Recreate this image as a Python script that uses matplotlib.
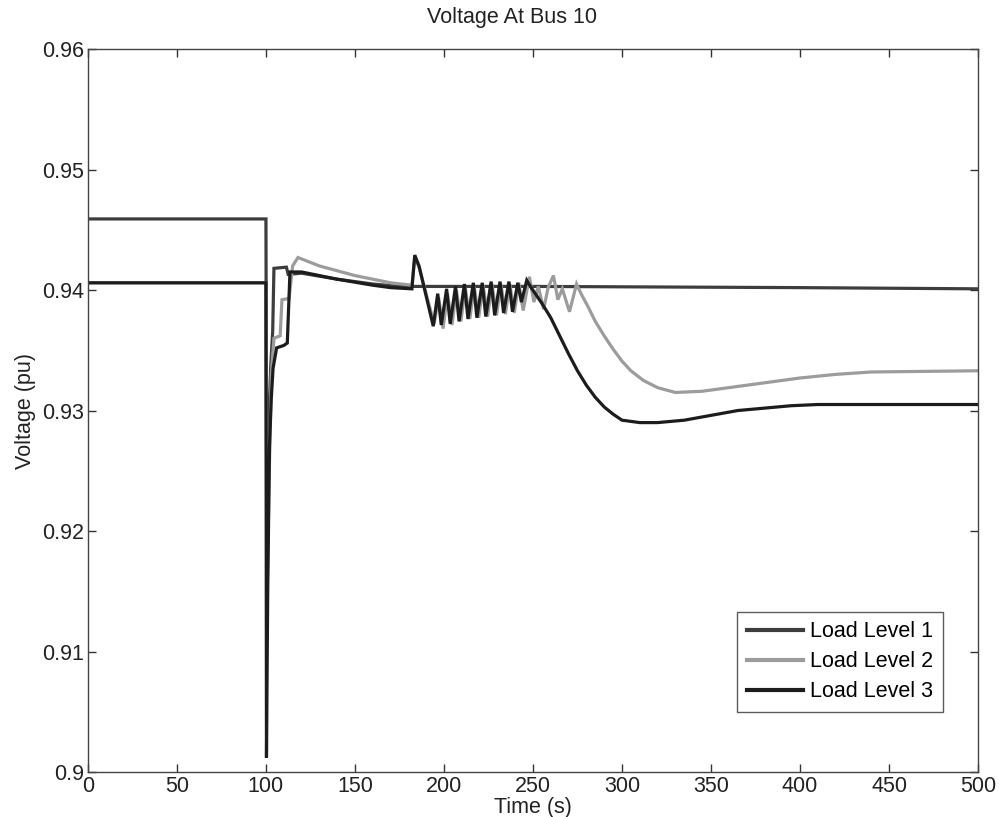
import matplotlib
matplotlib.use("Agg")
import matplotlib.pyplot as plt

plt.rcParams['font.family'] = ['Liberation Sans', 'DejaVu Sans']

# Load Level 1: bus voltage (pu) vs time (s)
t_l1 = [0, 100, 100.4, 101.5, 102.8, 103.8, 104.5, 111.5, 112.5, 120, 140, 160, 175, 250, 400, 500]
v_l1 = [0.9459, 0.9459, 0.9245, 0.9290, 0.9340, 0.9366, 0.9418, 0.9419, 0.9413, 0.9414,
        0.9409, 0.9405, 0.9403, 0.9403, 0.9402, 0.9401]

# Load Level 2
t_l2 = [0, 100, 100.5, 101.5, 103, 104.5, 108, 109, 113, 115, 118, 130, 150, 170, 182,
        183.6, 186, 194.5, 197, 199.5, 202, 204.5, 207, 209.5, 212, 214.5, 217, 219.5,
        222, 224.5, 227, 229.5, 232, 234.5, 237, 239.5, 242, 244.5, 248, 250.5, 253,
        256, 258.5, 261.5, 264, 266.5, 270.5, 274.5, 277, 281, 285, 290, 295, 300, 305,
        312, 320, 330, 345, 360, 380, 400, 420, 440, 500]
v_l2 = [0.9406, 0.9406, 0.9130, 0.9220, 0.9330, 0.9360, 0.9362, 0.9392, 0.9393, 0.9420,
        0.9427, 0.9420, 0.9412, 0.9406, 0.9404,
        0.9427, 0.9419, 0.9372, 0.9394, 0.9368, 0.9397, 0.9371, 0.9400, 0.9374, 0.9402,
        0.9376, 0.9403, 0.9377, 0.9404, 0.9378, 0.9405, 0.9379, 0.9405, 0.9380, 0.9405,
        0.9381, 0.9406, 0.9383, 0.9411, 0.9390, 0.9403, 0.9384, 0.9402, 0.9412, 0.9392,
        0.9401, 0.9382, 0.9405, 0.9397, 0.9386, 0.9374, 0.9362, 0.9351, 0.9341, 0.9333,
        0.9325, 0.9319, 0.9315, 0.9316, 0.9319, 0.9323, 0.9327, 0.9330, 0.9332, 0.9333]

# Load Level 3
t_l3 = [0, 100, 100.3, 101, 102, 103, 104, 106, 110, 112, 113.5, 120, 140, 160, 170, 182,
        183.6, 186, 194, 196.5, 198.5, 201.5, 203.5, 206.5, 208.5, 211.5, 213.5, 216.5,
        218.5, 221.5, 223.5, 226.5, 228.5, 231.5, 233.5, 236.5, 238.5, 241.5, 243.5,
        246.5, 249, 255, 260, 265, 270, 275, 280, 285, 290, 295, 300, 310, 320, 335, 350,
        365, 380, 395, 410, 500]
v_l3 = [0.9406, 0.9406, 0.9012, 0.9150, 0.9270, 0.9310, 0.9335, 0.9352, 0.9354, 0.9356,
        0.9415, 0.9415, 0.9409, 0.9404, 0.9402, 0.9401,
        0.9429, 0.9420, 0.9370, 0.9397, 0.9371, 0.9401, 0.9372, 0.9403, 0.9374, 0.9405,
        0.9376, 0.9406, 0.9377, 0.9406, 0.9378, 0.9407, 0.9379, 0.9407, 0.9381, 0.9407,
        0.9382, 0.9406, 0.9390, 0.9408, 0.9402, 0.9389, 0.9377, 0.9362, 0.9347, 0.9333,
        0.9321, 0.9311, 0.9303, 0.9297, 0.9292, 0.9290, 0.9290, 0.9292, 0.9296, 0.9300,
        0.9302, 0.9304, 0.9305, 0.9305]

series = [
    ("Load Level 1", t_l1, v_l1, "#3d3d3d"),
    ("Load Level 2", t_l2, v_l2, "#9c9c9c"),
    ("Load Level 3", t_l3, v_l3, "#1c1c1c"),
]

x_ticks = [0, 50, 100, 150, 200, 250, 300, 350, 400, 450, 500]
y_ticks = [0.90, 0.91, 0.92, 0.93, 0.94, 0.95, 0.96]
y_tick_labels = ["0.9", "0.91", "0.92", "0.93", "0.94", "0.95", "0.96"]

fig = plt.figure(figsize=(9.99, 8.17), dpi=100)
ax = fig.add_axes([0.088, 0.055, 0.891, 0.885])

for label, t, v, c in series:
    ax.plot(t, v, color=c, lw=2.3, label=label, solid_joinstyle='miter')

ax.set_xlim(0, 500)
ax.set_ylim(0.90, 0.96)
ax.set_xticks(x_ticks)
ax.set_yticks(y_ticks)
ax.set_yticklabels(y_tick_labels)
ax.tick_params(direction='in', top=True, right=True, length=6, width=1,
               labelsize=15.5, colors='#333333', labelcolor='#222222', pad=3)
for s in ax.spines.values():
    s.set_color('#444444')
    s.set_linewidth(1.0)

ax.set_title("Voltage At Bus 10", fontsize=15.5, color='#222222', pad=19)
ax.title.set_x(0.477)
ax.set_xlabel("Time (s)", fontsize=15.5, color='#222222', labelpad=0)
ax.set_ylabel("Voltage (pu)", fontsize=15.5, color='#222222', labelpad=4)

leg = ax.legend(loc='lower right', bbox_to_anchor=(0.961, 0.083), fontsize=15.5,
                frameon=True, fancybox=False, shadow=False, handlelength=2.6,
                borderpad=0.45, labelspacing=0.42, handletextpad=0.35, borderaxespad=0)
leg.get_frame().set_edgecolor('#333333')
leg.get_frame().set_linewidth(1.0)
for line in leg.get_lines():
    line.set_linewidth(3.0)

fig.savefig("out.png", dpi=100, facecolor='white')
